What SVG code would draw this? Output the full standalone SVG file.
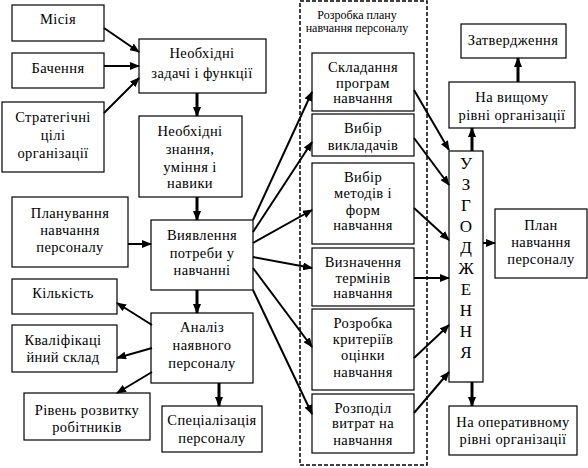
<svg xmlns="http://www.w3.org/2000/svg" width="588" height="468" viewBox="0 0 588 468" font-family="'Liberation Serif', 'Times New Roman', serif">
<defs>
<marker id="ah" markerUnits="userSpaceOnUse" markerWidth="10" markerHeight="8" refX="9" refY="4" orient="auto">
<path d="M0,0 L10,4 L0,8 Z" fill="#000"/>
</marker>
<style>
.b{fill:#fff;stroke:#000;stroke-width:1.2}
text{font-family:'Liberation Serif','Times New Roman',serif;font-size:14.5px;fill:#000;text-anchor:middle;letter-spacing:0.4px}
.s{font-size:12px;letter-spacing:0}
.v{font-size:17px;letter-spacing:0}
.c{stroke:#000;stroke-width:2;fill:none;marker-end:url(#ah)}
.t{stroke-width:3}
.d{fill:none;stroke:#000;stroke-width:1.5;stroke-dasharray:4,2}
</style>
</defs>
<rect width="588" height="468" fill="#fff"/>
<rect class="d" x="300" y="1" width="127" height="464"/>
<text class="s" x="357" y="19">Розробка плану</text>
<text class="s" x="357" y="32">навчання персоналу</text>

<g id="misia"><rect class="b" x="12" y="5" width="92" height="36"/><text x="58" y="24">Місія</text></g>
<g id="bachennia"><rect class="b" x="12" y="53" width="92" height="35"/><text x="58" y="73">Бачення</text></g>
<g id="tsili"><rect class="b" x="2" y="102" width="102" height="70"/><text x="53" y="122">Стратегічні</text><text x="53" y="140">цілі</text><text x="53" y="158">організації</text></g>
<g id="zadachi"><rect class="b" x="139" y="39" width="127" height="54"/><text x="202" y="58">Необхідні</text><text x="202" y="78">задачі і функції</text></g>
<g id="znannia"><rect class="b" x="139" y="116" width="103" height="81"/><text x="190" y="136">Необхідні</text><text x="190" y="154">знання,</text><text x="190" y="172">уміння і</text><text x="190" y="188">навики</text></g>
<g id="planuvannia"><rect class="b" x="12" y="197" width="116" height="70"/><text x="70" y="218">Планування</text><text x="70" y="235">навчання</text><text x="70" y="252">персоналу</text></g>
<g id="vyiavlennia"><rect class="b" x="151" y="220" width="102" height="70"/><text x="202" y="240">Виявлення</text><text x="202" y="258">потреби у</text><text x="202" y="275">навчанні</text></g>
<g id="kilkist"><rect class="b" x="12" y="279" width="105" height="35"/><text x="63" y="298">Кількість</text></g>
<g id="kvalif"><rect class="b" x="12" y="325" width="105" height="47"/><text x="63" y="345">Кваліфікаці</text><text x="63" y="362">йний склад</text></g>
<g id="analiz"><rect class="b" x="151" y="313" width="102" height="70"/><text x="202" y="332">Аналіз</text><text x="202" y="350">наявного</text><text x="202" y="368">персоналу</text></g>
<g id="riven"><rect class="b" x="24" y="393" width="126" height="47"/><text x="87" y="415">Рівень розвитку</text><text x="87" y="432">робітників</text></g>
<g id="spetsializatsiia"><rect class="b" x="162" y="406" width="100" height="46"/><text x="212" y="425">Спеціалізація</text><text x="212" y="443">персоналу</text></g>

<g id="skladannia"><rect class="b" x="312" y="53" width="102" height="58"/><text x="363" y="72">Складання</text><text x="363" y="88">програм</text><text x="363" y="103">навчання</text></g>
<g id="vybir-vykl"><rect class="b" x="312" y="114" width="102" height="42"/><text x="363" y="133">Вибір</text><text x="363" y="150">викладачів</text></g>
<g id="vybir-metodiv"><rect class="b" x="312" y="163" width="102" height="81"/><text x="363" y="182">Вибір</text><text x="363" y="198">методів і</text><text x="363" y="215">форм</text><text x="363" y="230">навчання</text></g>
<g id="vyznachennia"><rect class="b" x="312" y="248" width="102" height="58"/><text x="363" y="267">Визначення</text><text x="363" y="283">термінів</text><text x="363" y="298">навчання</text></g>
<g id="kryterii"><rect class="b" x="312" y="309" width="102" height="81"/><text x="363" y="328">Розробка</text><text x="363" y="344">критеріїв</text><text x="363" y="360">оцінки</text><text x="363" y="377">навчання</text></g>
<g id="vytraty"><rect class="b" x="312" y="394" width="102" height="59"/><text x="363" y="413">Розподіл</text><text x="363" y="428">витрат на</text><text x="363" y="445">навчання</text></g>

<g id="uzgodzhennia"><rect class="b" x="449" y="151" width="34" height="231"/>
<text class="v" x="466" y="169">У</text><text class="v" x="466" y="190">З</text><text class="v" x="466" y="211">Г</text><text class="v" x="466" y="232">О</text><text class="v" x="466" y="253">Д</text><text class="v" x="466" y="274">Ж</text><text class="v" x="466" y="295">Е</text><text class="v" x="466" y="316">Н</text><text class="v" x="466" y="337">Н</text><text class="v" x="466" y="358">Я</text></g>
<g id="vyshchyi"><rect class="b" x="449" y="82" width="126" height="46"/><text x="512" y="102">На вищому</text><text x="512" y="120">рівні організації</text></g>
<g id="zatverdzhennia"><rect class="b" x="461" y="24" width="105" height="34"/><text x="513" y="45">Затвердження</text></g>
<g id="plan"><rect class="b" x="495" y="209" width="92" height="69"/><text x="541" y="230">План</text><text x="541" y="247">навчання</text><text x="541" y="264">персоналу</text></g>
<g id="operatyvnyi"><rect class="b" x="449" y="406" width="128" height="49"/><text x="513" y="427">На оперативному</text><text x="513" y="444">рівні організації</text></g>

<g id="connectors">
<line class="c" x1="104" y1="28" x2="139" y2="52"/>
<line class="c" x1="104" y1="66" x2="139" y2="66"/>
<line class="c" x1="104" y1="113" x2="139" y2="78"/>
<line class="c t" x1="197" y1="93" x2="197" y2="116"/>
<line class="c t" x1="197" y1="197" x2="197" y2="220"/>
<line class="c" x1="128" y1="244" x2="151" y2="244"/>
<line class="c t" x1="197" y1="290" x2="197" y2="313"/>
<line class="c" x1="152" y1="325" x2="117" y2="303"/>
<line class="c" x1="152" y1="348" x2="117" y2="358"/>
<line class="c" x1="152" y1="372" x2="117" y2="393"/>
<line class="c t" x1="219" y1="383" x2="219" y2="406"/>
<line class="c" x1="253" y1="220" x2="312" y2="92"/>
<line class="c" x1="253" y1="232" x2="312" y2="142"/>
<line class="c" x1="253" y1="243" x2="312" y2="210"/>
<line class="c" x1="253" y1="257" x2="312" y2="268"/>
<line class="c" x1="253" y1="268" x2="312" y2="347"/>
<line class="c" x1="253" y1="290" x2="312" y2="414"/>
<line class="c" x1="414" y1="90" x2="449" y2="150"/>
<line class="c" x1="414" y1="138" x2="449" y2="185"/>
<line class="c" x1="414" y1="208" x2="449" y2="240"/>
<line class="c" x1="414" y1="278" x2="449" y2="278"/>
<line class="c" x1="414" y1="358" x2="449" y2="325"/>
<line class="c" x1="414" y1="413" x2="449" y2="372"/>
<line class="c t" x1="472" y1="151" x2="472" y2="128"/>
<line class="c t" x1="518" y1="82" x2="518" y2="58"/>
<line class="c" x1="483" y1="243" x2="495" y2="243"/>
<line class="c t" x1="472" y1="382" x2="472" y2="406"/>
</g>
</svg>
